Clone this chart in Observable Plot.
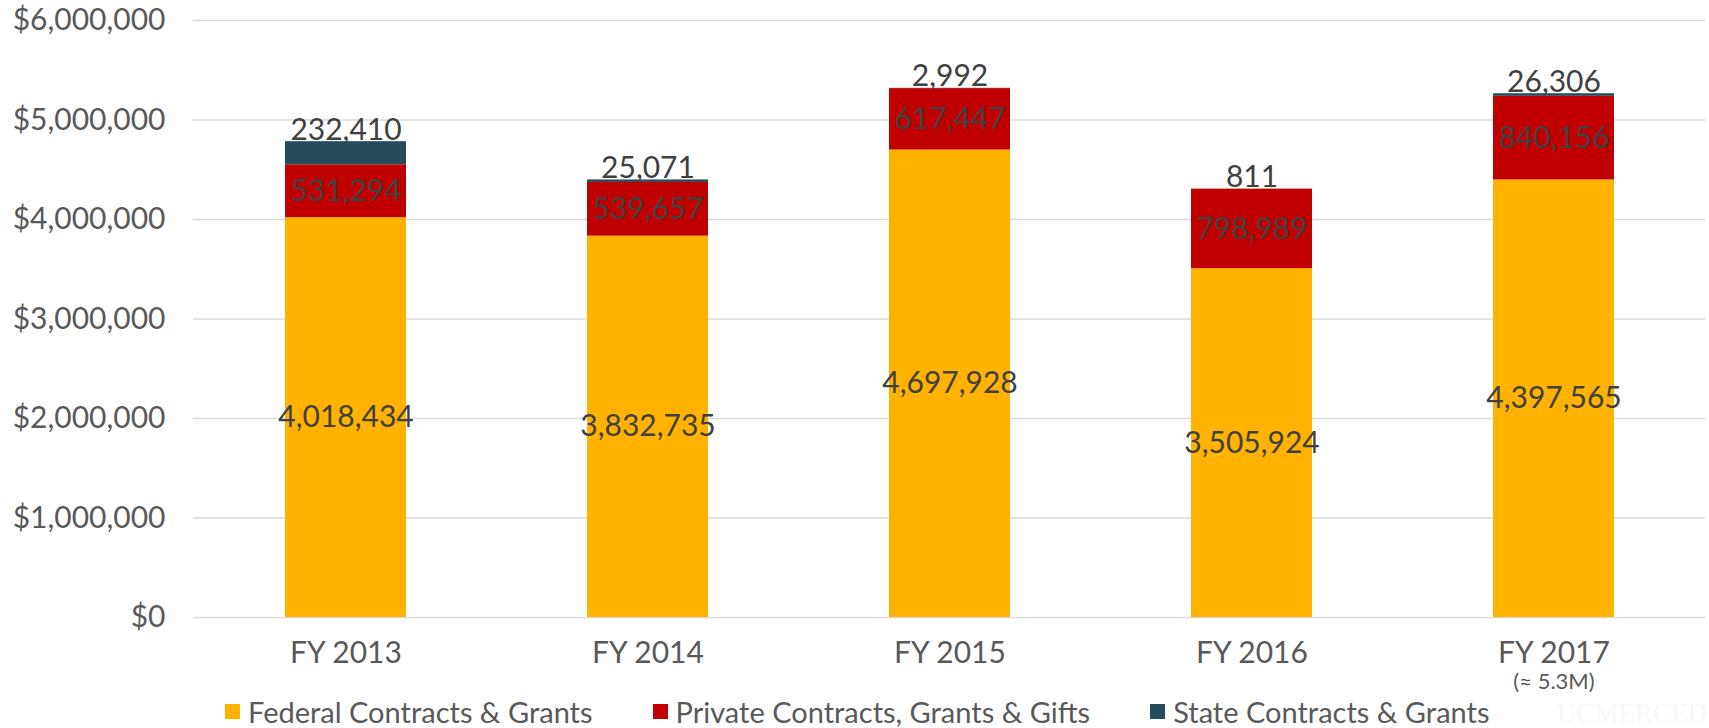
<!DOCTYPE html>
<html>
<head>
<meta charset="utf-8">
<script src="https://cdn.jsdelivr.net/npm/d3@7"></script>
<script src="https://cdn.jsdelivr.net/npm/@observablehq/plot@0.6"></script>
<style>
  html, body { margin: 0; padding: 0; background: #fff; }
  body { width: 1709px; height: 728px; overflow: hidden; position: relative; font-family: Lato, "Noto Sans", sans-serif; }
  #legend { display: flex; align-items: center; padding-left: 225px; gap: 60px; height: 36px; font-size: 29px; color: #595959; }
  .item { display: flex; align-items: center; }
  .sw { width: 15px; height: 15px; margin-right: 8px; }
  #wm { position: absolute; left: 1557px; top: 698px; font-size: 27px; font-family: "Liberation Serif", serif; color: #f7f7f7; white-space: nowrap; }
</style>
</head>
<body>
<div id="chart"></div>
<div id="legend"></div>
<div id="wm">UCMERCED</div>
<script>
const years = ["FY 2013", "FY 2014", "FY 2015", "FY 2016", "FY 2017"];
const federal = [4018434, 3832735, 4697928, 3505924, 4397565];
const privateFunds = [531294, 539657, 617447, 798989, 840156];
const stateFunds = [232410, 25071, 2992, 811, 26306];
const seriesNames = ["Federal Contracts & Grants", "Private Contracts, Grants & Gifts", "State Contracts & Grants"];
const seriesColors = ["#FFB300", "#C00000", "#264B5A"];
const yTicks = [0, 1000000, 2000000, 3000000, 4000000, 5000000, 6000000];
const note = { year: "FY 2017", text: "(≈ 5.3M)" };

const seriesValues = [federal, privateFunds, stateFunds];
const rows = [];
years.forEach((year, i) => {
  let base = 0;
  seriesValues.forEach((vals, s) => {
    const v = vals[i];
    rows.push({ year, series: seriesNames[s], value: v, s, y1: base, y2: base + v, mid: base + v / 2 });
    base += v;
  });
});
const fmt = d3.format(",");

const chart = Plot.plot({
  width: 1709,
  height: 693,
  marginLeft: 193,
  marginRight: 4,
  marginTop: 20,
  marginBottom: 76,
  style: { fontFamily: "Lato, 'Noto Sans', sans-serif", fontSize: "30px", color: "#595959", background: "#fff" },
  x: { domain: years, paddingInner: 0.6, paddingOuter: 0.3, label: null },
  y: { domain: [0, 6000000], label: null },
  color: { domain: seriesNames, range: seriesColors },
  marks: [
    Plot.ruleY(yTicks, { stroke: "#d9d9d9", strokeWidth: 1.5 }),
    Plot.axisY(yTicks, { tickSize: 0, tickPadding: 28, tickFormat: d => "$" + fmt(d), fontSize: 30 }),
    Plot.axisX({ tickSize: 0, tickPadding: 24, fontSize: 30 }),
    Plot.barY(rows, { x: "year", y1: "y1", y2: "y2", fill: "series" }),
    Plot.text(rows.filter(d => d.s < 2), { x: "year", y: "mid", text: d => fmt(d.value), fontSize: 30, fill: "#404040" }),
    Plot.text(rows.filter(d => d.s === 2), { x: "year", y: "y2", text: d => fmt(d.value), fontSize: 30, fill: "#404040", lineAnchor: "bottom", dy: -2 }),
    Plot.text([note], { x: "year", text: "text", frameAnchor: "bottom", dy: 71, fontSize: 22, fill: "#595959" })
  ]
});
document.getElementById("chart").appendChild(chart);

const legend = document.getElementById("legend");
seriesNames.forEach((name, i) => {
  const item = document.createElement("div");
  item.className = "item";
  const sw = document.createElement("div");
  sw.className = "sw";
  sw.style.background = seriesColors[i];
  const t = document.createElement("span");
  t.textContent = name;
  item.appendChild(sw);
  item.appendChild(t);
  legend.appendChild(item);
});
</script>
</body>
</html>
